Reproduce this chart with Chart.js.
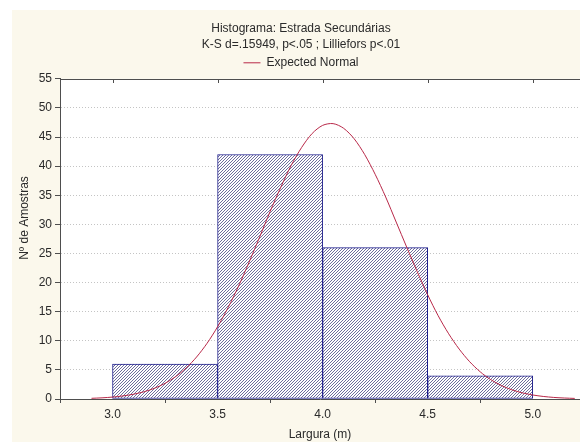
<!DOCTYPE html>
<html>
<head>
<meta charset="utf-8">
<script src="https://cdn.jsdelivr.net/npm/chart.js@4/dist/chart.umd.min.js"></script>
<style>
  html, body { margin: 0; padding: 0; background: #ffffff; overflow: hidden; }
  #wrap { width: 580px; height: 442px; position: relative; }
</style>
</head>
<body>
<div id="wrap"><canvas id="chart" width="580" height="442"></canvas></div>
<script>
// Histogram bins: lower bound of each class and class width (m)
const binStarts = [3.0, 3.5, 4.0, 4.5];
const binWidth = 0.5;
// Number of samples in each class
const counts = [6, 42, 26, 4];

// Expected normal curve (scaled to counts per class)
const normalX = [2.90, 2.95, 3.00, 3.05, 3.10, 3.15, 3.20, 3.25, 3.30, 3.35,
                 3.40, 3.45, 3.50, 3.55, 3.60, 3.65, 3.70, 3.75, 3.80, 3.85,
                 3.90, 3.95, 4.00, 4.05, 4.10, 4.15, 4.20, 4.25, 4.30, 4.35,
                 4.40, 4.45, 4.50, 4.55, 4.60, 4.65, 4.70, 4.75, 4.80, 4.85,
                 4.90, 4.95, 5.00, 5.05, 5.10, 5.15, 5.20];
const normalY = [0.12, 0.20, 0.33, 0.53, 0.82, 1.24, 1.85, 2.69, 3.83, 5.32,
                 7.21, 9.57, 12.4, 15.7, 19.4, 23.5, 27.8, 32.2, 36.3, 40.1,
                 43.2, 45.6, 47.0, 47.3, 46.5, 44.7, 42.0, 38.6, 34.7, 30.4,
                 26.1, 21.9, 17.9, 14.3, 11.2, 8.57, 6.40, 4.67, 3.33, 2.33,
                 1.59, 1.06, 0.69, 0.44, 0.27, 0.17, 0.10];

// Axis ticks
const xTicks = [3.0, 3.5, 4.0, 4.5, 5.0];
const yTicks = [0, 5, 10, 15, 20, 25, 30, 35, 40, 45, 50, 55];

const FONT = '"Liberation Sans", Arial, sans-serif';
const CREAM = '#fbf8ec';
const TEXT = '#2a2a2a';
const AXIS = '#4e4e4e';

// Diagonal hatch for the bars
function hatchPattern() {
  const c = document.createElement('canvas');
  c.width = 3; c.height = 3;
  const g = c.getContext('2d');
  g.fillStyle = '#ffffff';
  g.fillRect(0, 0, 3, 3);
  g.fillStyle = '#6e6e9c';
  g.fillRect(0, 2, 1, 1);
  g.fillRect(1, 1, 1, 1);
  g.fillRect(2, 0, 1, 1);
  return document.getElementById('chart').getContext('2d').createPattern(c, 'repeat');
}

const barData = binStarts.map((s, i) => ({ x: s + binWidth / 2, y: counts[i] }));
const curveData = normalX.map((x, i) => ({ x: x, y: normalY[i] }));

// Panel backgrounds, frame and the rotated y title
const decor = {
  id: 'decor',
  beforeDraw(chart) {
    const { ctx, chartArea: a, width, height } = chart;
    ctx.save();
    ctx.fillStyle = '#ffffff';
    ctx.fillRect(0, 0, width, height);
    ctx.fillStyle = CREAM;
    ctx.fillRect(12, 10, width - 12, height - 10);
    ctx.fillStyle = '#ffffff';
    ctx.fillRect(a.left, a.top, a.right - a.left, a.bottom - a.top);
    ctx.restore();
  },
  afterDraw(chart) {
    const { ctx, chartArea: a, scales } = chart;
    ctx.save();
    ctx.strokeStyle = AXIS;
    ctx.lineWidth = 1;
    ctx.beginPath();
    ctx.moveTo(a.left, Math.round(a.top) + 0.5);
    ctx.lineTo(a.right, Math.round(a.top) + 0.5);
    xTicks.forEach(v => {
      const px = Math.round(scales.x.getPixelForValue(v)) + 0.5;
      ctx.moveTo(px, Math.round(a.top));
      ctx.lineTo(px, Math.round(a.top) + 4);
    });
    ctx.stroke();
    ctx.translate(25, 218);
    ctx.rotate(-Math.PI / 2);
    ctx.fillStyle = TEXT;
    ctx.font = '12px ' + FONT;
    ctx.textAlign = 'center';
    ctx.textBaseline = 'middle';
    ctx.fillText('Nº de Amostras', 0, 0);
    ctx.restore();
  }
};

new Chart(document.getElementById('chart'), {
  type: 'bar',
  data: {
    datasets: [
      {
        type: 'bar',
        label: 'Nº de Amostras',
        data: barData,
        backgroundColor: hatchPattern(),
        borderColor: '#1e1e8c',
        borderWidth: 1,
        borderSkipped: false,
        barPercentage: 1.0,
        categoryPercentage: 1.0,
        order: 2
      },
      {
        type: 'line',
        label: 'Expected Normal',
        data: curveData,
        borderColor: '#b82848',
        backgroundColor: '#b82848',
        borderWidth: 1,
        pointRadius: 0,
        pointStyle: 'line',
        tension: 0.3,
        fill: false,
        order: 1
      }
    ]
  },
  options: {
    responsive: false,
    animation: false,
    devicePixelRatio: 1,
    layout: { padding: { left: 22, right: 0, top: 0, bottom: 0 } },
    plugins: {
      tooltip: { enabled: false },
      title: {
        display: true,
        text: 'Histograma: Estrada Secundárias',
        color: TEXT,
        font: { family: FONT, size: 12, weight: 'normal' },
        padding: { top: 21, bottom: 0 }
      },
      subtitle: {
        display: true,
        text: 'K-S d=.15949, p<.05 ; Lilliefors p<.01',
        color: TEXT,
        font: { family: FONT, size: 12, weight: 'normal' },
        padding: { top: 2, bottom: 0 }
      },
      legend: {
        display: true,
        position: 'top',
        labels: {
          filter: item => item.datasetIndex === 1,
          usePointStyle: true,
          pointStyleWidth: 17,
          padding: 5,
          color: TEXT,
          font: { family: FONT, size: 12 }
        }
      }
    },
    scales: {
      x: {
        type: 'linear',
        min: 2.75,
        max: 5.225,
        offset: false,
        afterBuildTicks: s => { s.ticks = xTicks.map(v => ({ value: v })); },
        afterFit: s => { s.height = 43; },
        ticks: {
          color: TEXT,
          font: { family: FONT, size: 12 },
          padding: 4,
          maxRotation: 0,
          autoSkip: false,
          callback: v => Number(v).toFixed(1)
        },
        grid: { display: true, drawOnChartArea: false, drawTicks: true, tickLength: 4, tickColor: AXIS },
        border: { display: true, color: AXIS, width: 1 },
        title: {
          display: true,
          text: 'Largura (m)',
          color: TEXT,
          font: { family: FONT, size: 12 },
          padding: { top: 0, bottom: 0 }
        }
      },
      y: {
        type: 'linear',
        min: 0,
        max: 55,
        afterBuildTicks: s => { s.ticks = yTicks.map(v => ({ value: v })); },
        afterFit: s => { s.width = 38; },
        ticks: {
          color: TEXT,
          font: { family: FONT, size: 12 },
          padding: 3,
          autoSkip: false
        },
        grid: {
          display: true,
          drawOnChartArea: true,
          drawTicks: true,
          tickLength: 5,
          tickColor: AXIS,
          color: ctx => (ctx.tick && (ctx.tick.value === 0 || ctx.tick.value === 55)) ? 'rgba(0,0,0,0)' : '#c4c4c4',
          lineWidth: 1
        },
        border: { display: true, color: AXIS, width: 1, dash: [1, 2] }
      }
    }
  },
  plugins: [decor]
});
</script>
</body>
</html>
